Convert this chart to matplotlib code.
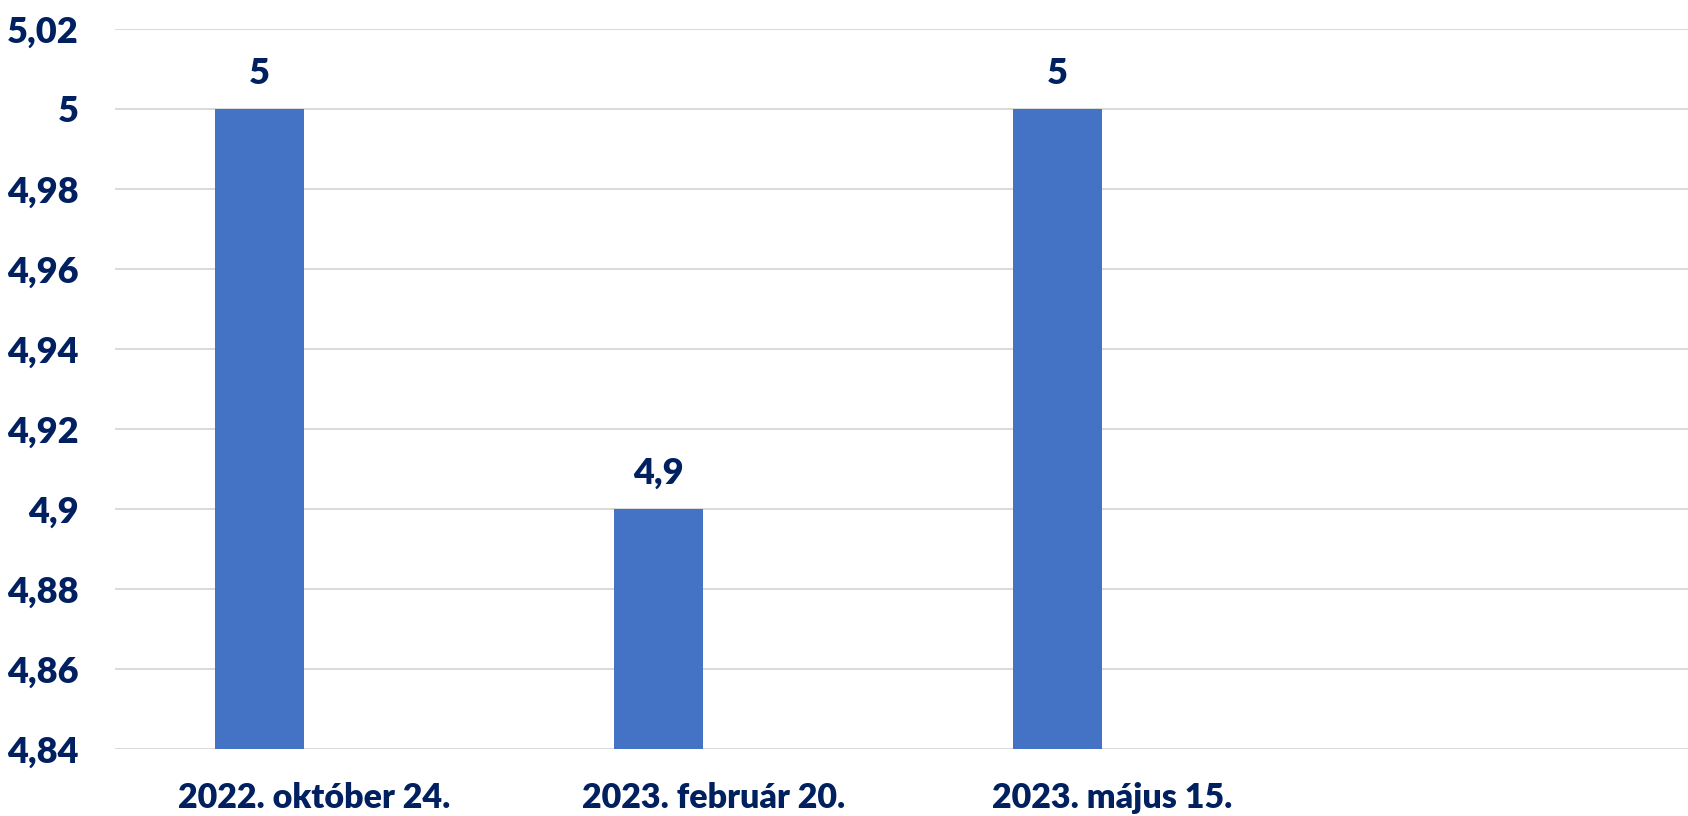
import numpy as np
import matplotlib.pyplot as plt

# adatok
kategoriak = ['2022. október 24.', '2023. február 20.', '2023. május 15.', '']
ertekek = [5.0, 4.9, 5.0]
y_ticks = [4.84, 4.86, 4.88, 4.90, 4.92, 4.94, 4.96, 4.98, 5.00, 5.02]

navy = '#002060'
plt.rcParams['font.family'] = ['Lato', 'DejaVu Sans']

fig = plt.figure(figsize=(16.88, 8.16), dpi=100)
ax = fig.add_axes([0.0681, 0.0821, 0.9455, 0.8824])

x = np.arange(len(kategoriak))
# a sáv a kategória bal felén ül (második, üres sorozat helye)
bars = ax.bar(x[:len(ertekek)] - 0.137, ertekek, width=0.223, color='#4472C4', zorder=3)

ax.set_ylim(4.84, 5.02)
ax.set_xlim(-0.5, 3.5)
ax.set_yticks(y_ticks)
ax.set_yticklabels(['{:g}'.format(v).replace('.', ',') for v in y_ticks])
ax.set_xticks(x)
ax.set_xticklabels(kategoriak)

ax.grid(axis='y', color='#D9D9D9', linewidth=1.4, zorder=0)
for s in ax.spines.values():
    s.set_visible(False)
ax.tick_params(axis='both', length=0, colors=navy)
ax.tick_params(axis='y', labelsize=26, pad=26)
ax.tick_params(axis='x', labelsize=24.5, pad=24)
for lab in ax.get_xticklabels() + ax.get_yticklabels():
    lab.set_fontweight('heavy')

for b, v in zip(bars, ertekek):
    ax.annotate('{:g}'.format(v).replace('.', ','),
                (b.get_x() + b.get_width() / 2, v),
                xytext=(0, 14), textcoords='offset points',
                ha='center', va='bottom', fontsize=26, fontweight='heavy', color=navy)

plt.savefig('out.png', dpi=100)
